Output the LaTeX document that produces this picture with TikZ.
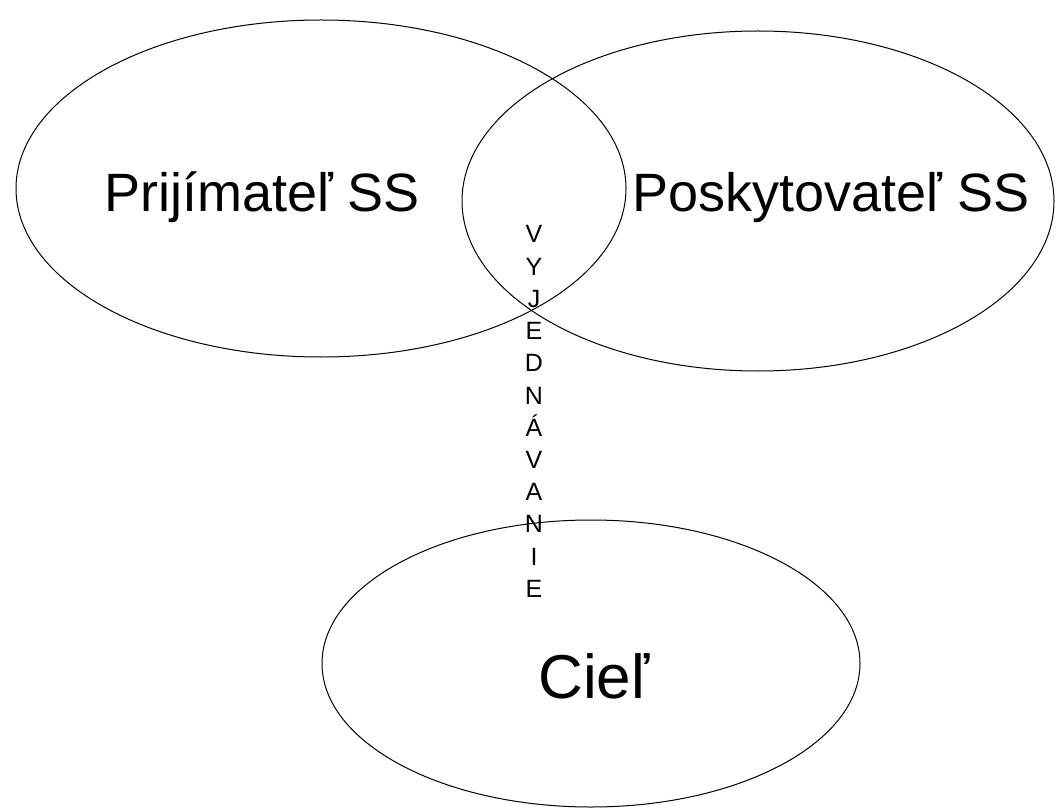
\documentclass[tikz,border=0pt]{standalone}
\usepackage{fontspec}
\setmainfont{Liberation Sans}
\usetikzlibrary{shapes.geometric}
\begin{document}
\begin{tikzpicture}[x=1pt,y=-1pt,
        oval/.style={draw, ellipse, inner sep=0pt, line width=1pt},
        big/.style={font=\fontsize{54}{60}\selectfont, anchor=base, inner sep=0pt},
        letter/.style={font=\fontsize{25}{30}\selectfont, anchor=base, inner sep=0pt}]
            \useasboundingbox (0,0) rectangle (1057,810);
            \node[oval, minimum width=610pt, minimum height=337pt] (prijimatel) at (321,188.5) {};
            \node[oval, minimum width=592pt, minimum height=340pt] (poskytovatel) at (758,201) {};
            \node[oval, minimum width=538pt, minimum height=287pt] (ciel) at (591,663.5) {};
            \node[big] (tprij) at (262,212) {Prijímateľ SS};
            \node[big] (tposk) at (831,212) {Poskytovateľ SS};
            \node[big, font=\fontsize{62}{70}\selectfont] (tciel) at (594,698) {Cieľ};
            % vertical word
            \foreach \ch [count=\i from 0] in {V,Y,J,E,D,N,Á,V,A,N,I,E}
                \node[letter] (v\i) at (534,243+32.2*\i) {\ch};
        \end{tikzpicture}
\end{document}
